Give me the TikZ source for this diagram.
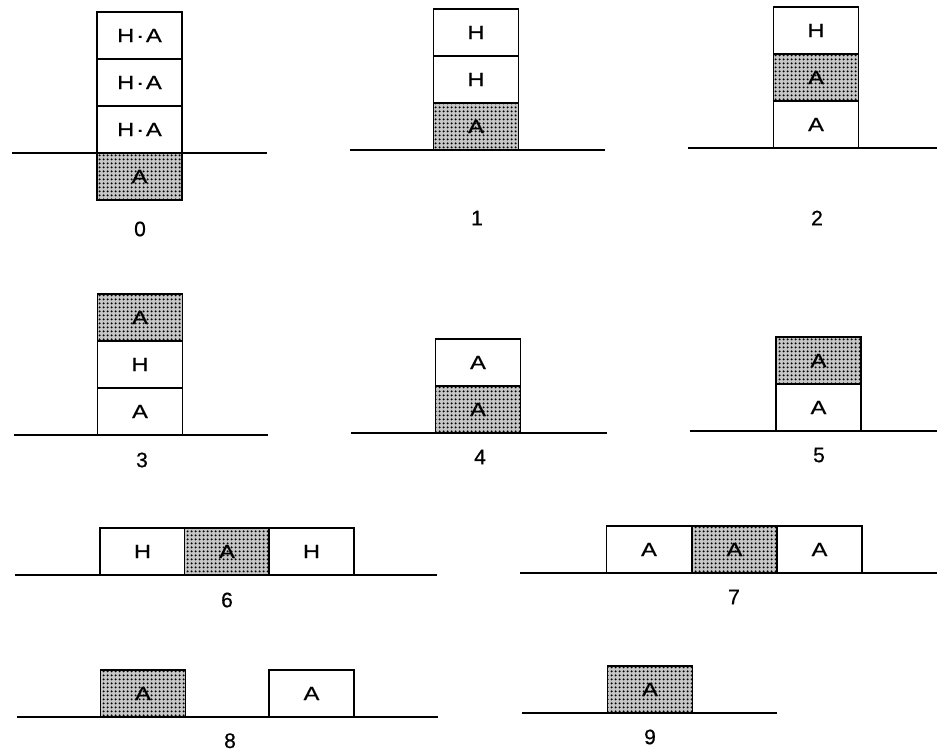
\documentclass[tikz,border=0pt]{standalone}
\usepackage{fontspec}
\setmainfont{Liberation Sans}
\newfontfamily\scanfont[FakeBold=0.6]{Liberation Sans}
\usetikzlibrary{patterns.meta}
\tikzdeclarepattern{name=stip, type=uncolored,
  bounding box={(-2pt,-2pt) and (2pt,2pt)}, tile size={(4pt,4pt)},
  code={\fill (0,0) circle (1.3pt);}}
\newcommand\widetxt[1]{\scalebox{1.25}[1]{#1}}
\tikzset{
  cell/.style={draw, line width=1.6pt, minimum width=85pt, minimum height=47pt, inner sep=0pt, fill=white, font=\scanfont\fontsize{19}{21}\selectfont},
  shaded/.style={cell, fill=gray!45, postaction={pattern={stip}, pattern color=black}},
  ground/.style={line width=1.7pt},
  lab/.style={font=\scanfont\fontsize{21}{23}\selectfont, inner sep=0pt}
}
\begin{document}
\begin{tikzpicture}[x=1pt,y=-1pt]
\useasboundingbox (0,0) rectangle (937,751);
% panel 0
\coordinate (g0l) at (12,153); \coordinate (g0r) at (267,153);
\draw[ground] (g0l) -- (g0r);
\node[cell] (p0a) at (139.5,35.5) {\widetxt{H\kern1.5pt·\kern1.5pt A}};
\node[cell] (p0b) at (139.5,82.5) {\widetxt{H\kern1.5pt·\kern1.5pt A}};
\node[cell] (p0c) at (139.5,129.5) {\widetxt{H\kern1.5pt·\kern1.5pt A}};
\node[shaded] (p0d) at (139.5,176.5) {\widetxt{A}};
\node[lab] (l0) at (140,229) {0};
% panel 1
\coordinate (g1l) at (350,150); \coordinate (g1r) at (605,150);
\draw[ground] (g1l) -- (g1r);
\node[cell] (p1a) at (476,32.5) {\widetxt{H}};
\node[cell] (p1b) at (476,79.5) {\widetxt{H}};
\node[shaded] (p1c) at (476,126.5) {\widetxt{A}};
\node[lab] (l1) at (477,218) {1};
% panel 2
\coordinate (g2l) at (688,148); \coordinate (g2r) at (937,148);
\draw[ground] (g2l) -- (g2r);
\node[cell] (p2a) at (816,30.5) {\widetxt{H}};
\node[shaded] (p2b) at (816,77.5) {\widetxt{A}};
\node[cell] (p2c) at (816,124.5) {\widetxt{A}};
\node[lab] (l2) at (817,218) {2};
% panel 3
\coordinate (g3l) at (14,435); \coordinate (g3r) at (268,435);
\draw[ground] (g3l) -- (g3r);
\node[shaded] (p3a) at (140,317.5) {\widetxt{A}};
\node[cell] (p3b) at (140,364.5) {\widetxt{H}};
\node[cell] (p3c) at (140,411.5) {\widetxt{A}};
\node[lab] (l3) at (142,460) {3};
% panel 4
\coordinate (g4l) at (351,433); \coordinate (g4r) at (607,433);
\draw[ground] (g4l) -- (g4r);
\node[cell] (p4a) at (478,362.5) {\widetxt{A}};
\node[shaded] (p4b) at (478,409.5) {\widetxt{A}};
\node[lab] (l4) at (480,457) {4};
% panel 5
\coordinate (g5l) at (690,431); \coordinate (g5r) at (937,431);
\draw[ground] (g5l) -- (g5r);
\node[shaded] (p5a) at (818.5,360.5) {\widetxt{A}};
\node[cell] (p5b) at (818.5,407.5) {\widetxt{A}};
\node[lab] (l5) at (819,455) {5};
% panel 6
\coordinate (g6l) at (15,575); \coordinate (g6r) at (437,575);
\draw[ground] (g6l) -- (g6r);
\node[cell] (p6a) at (142.5,551.5) {\widetxt{H}};
\node[shaded] (p6b) at (227,551.5) {\widetxt{A}};
\node[cell] (p6c) at (311.5,551.5) {\widetxt{H}};
\node[lab] (l6) at (227,600) {6};
% panel 7
\coordinate (g7l) at (520,573); \coordinate (g7r) at (937,573);
\draw[ground] (g7l) -- (g7r);
\node[cell] (p7a) at (649,549.5) {\widetxt{A}};
\node[shaded] (p7b) at (734.5,549.5) {\widetxt{A}};
\node[cell] (p7c) at (819.5,549.5) {\widetxt{A}};
\node[lab] (l7) at (734,597) {7};
% panel 8
\coordinate (g8l) at (17,717); \coordinate (g8r) at (438,717);
\draw[ground] (g8l) -- (g8r);
\node[shaded] (p8a) at (143,693.5) {\widetxt{A}};
\node[cell] (p8b) at (311.5,693.5) {\widetxt{A}};
\node[lab, anchor=base] (l8) at (230,748) {8};
% panel 9
\coordinate (g9l) at (522,713); \coordinate (g9r) at (777,713);
\draw[ground] (g9l) -- (g9r);
\node[shaded] (p9a) at (650,689.5) {\widetxt{A}};
\node[lab] (l9) at (650,737) {9};
\end{tikzpicture}
\end{document}
